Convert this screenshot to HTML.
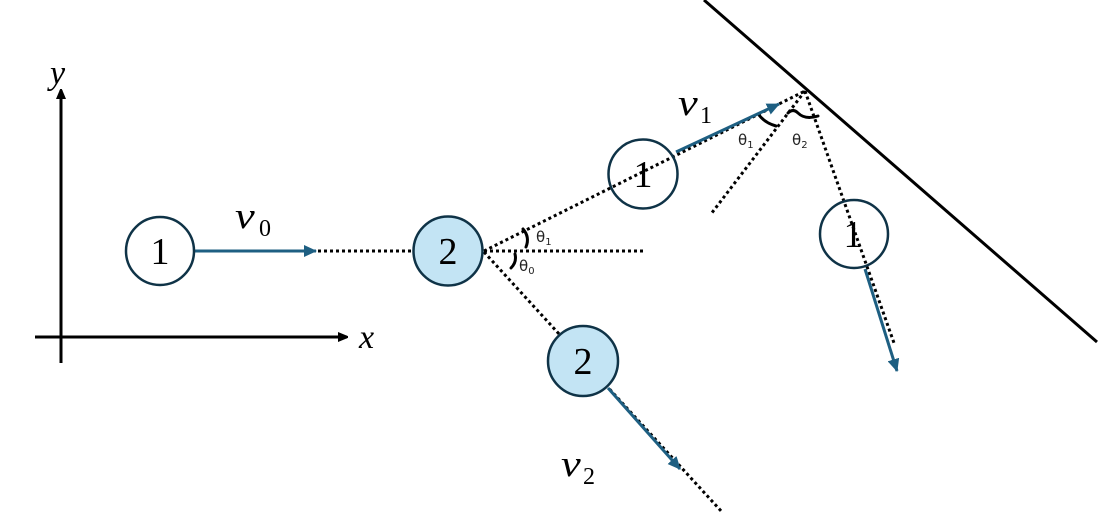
<!DOCTYPE html>
<html><head><meta charset="utf-8"><style>
html,body{margin:0;padding:0;background:#fff;}
svg{display:block;}
.m{font-family:"Liberation Serif",serif;font-style:italic;fill:#000;}
.n{font-family:"Liberation Serif",serif;fill:#000;}
.t{font-family:"DejaVu Sans","Liberation Sans",sans-serif;fill:#222;}
</style></head><body>
<svg width="1105" height="526" viewBox="0 0 1105 526" xmlns="http://www.w3.org/2000/svg">
<defs>
<marker id="ab" markerWidth="10" markerHeight="10" refX="9" refY="5" orient="auto" markerUnits="userSpaceOnUse"><path d="M0,0 L12,5 L0,10 z" fill="#000"/></marker>
<marker id="ub" markerWidth="14" markerHeight="12" refX="12" refY="6" orient="auto" markerUnits="userSpaceOnUse"><path d="M0,0 L13,6 L0,12 z" fill="#1e5f82"/></marker>
</defs>
<!-- axes -->
<line x1="61" y1="363" x2="61" y2="90" stroke="#000" stroke-width="3" marker-end="url(#ab)"/>
<line x1="35" y1="337" x2="347" y2="337" stroke="#000" stroke-width="3" marker-end="url(#ab)"/>
<text class="m" x="50" y="84" font-size="34">y</text>
<text class="m" x="359" y="348" font-size="34">x</text>
<!-- wall -->
<line x1="704" y1="0" x2="1097" y2="342" stroke="#000" stroke-width="3"/>
<!-- dotted lines -->
<g stroke="#000" stroke-width="3" stroke-dasharray="3 3" fill="none">
<line x1="318" y1="251" x2="414" y2="251"/>
<line x1="484" y1="251" x2="646" y2="251"/>
<line x1="484" y1="251" x2="805" y2="91"/>
<line x1="484" y1="252" x2="722" y2="512"/>
<line x1="805" y1="91" x2="711" y2="214"/>
<line x1="805" y1="91" x2="894" y2="343"/>
</g>
<!-- angle arcs -->
<g stroke="#000" stroke-width="3" fill="none" stroke-linecap="round">
<path d="M523 229 Q530 237 526 247"/>
<path d="M515 254 Q517 262 511 268"/>
<path d="M759 115 Q765 123 776 126"/>
<path d="M788 113 Q793 108 798 113 Q805 120 818 116"/>
</g>
<!-- blue arrows -->
<g stroke="#1e5f82" stroke-width="3" fill="none">
<line x1="194" y1="251" x2="316" y2="251" marker-end="url(#ub)"/>
<line x1="676" y1="152" x2="779" y2="104" marker-end="url(#ub)"/>
<line x1="608" y1="388" x2="680" y2="469" marker-end="url(#ub)"/>
<line x1="865" y1="269" x2="897" y2="371" marker-end="url(#ub)"/>
</g>
<!-- circles -->
<g stroke="#0f3347" stroke-width="2.5">
<circle cx="160" cy="251" r="34" fill="#fff"/>
<circle cx="448" cy="251" r="34.5" fill="#c3e4f4"/>
<circle cx="643" cy="174" r="34.5" fill="none"/>
<circle cx="583" cy="361" r="35" fill="#c3e4f4"/>
<circle cx="854" cy="234" r="34" fill="none"/>
</g>
<text class="n" x="160" y="264" font-size="38" text-anchor="middle">1</text>
<text class="n" x="448" y="264" font-size="38" text-anchor="middle">2</text>
<text class="n" x="643" y="187" font-size="38" text-anchor="middle">1</text>
<text class="n" x="583" y="374" font-size="38" text-anchor="middle">2</text>
<text class="n" x="853" y="247" font-size="38" text-anchor="middle">1</text>
<!-- v labels -->
<g transform="translate(235,228) scale(1.2,1)"><text class="m" x="0" y="0" font-size="37">v</text></g>
<text class="n" x="259" y="236" font-size="24">0</text>
<g transform="translate(678,115) scale(1.2,1)"><text class="m" x="0" y="0" font-size="37">v</text></g>
<text class="n" x="700" y="123" font-size="24">1</text>
<g transform="translate(561,476) scale(1.2,1)"><text class="m" x="0" y="0" font-size="37">v</text></g>
<text class="n" x="583" y="484" font-size="24">2</text>
<!-- theta labels -->
<text class="t" x="536" y="242" font-size="15">θ<tspan font-size="10" dy="3">1</tspan></text>
<text class="t" x="519" y="271" font-size="15">θ<tspan font-size="10" dy="3">0</tspan></text>
<text class="t" x="738" y="145" font-size="15">θ<tspan font-size="10" dy="3">1</tspan></text>
<text class="t" x="792" y="145" font-size="15">θ<tspan font-size="10" dy="3">2</tspan></text>
</svg>
</body></html>
